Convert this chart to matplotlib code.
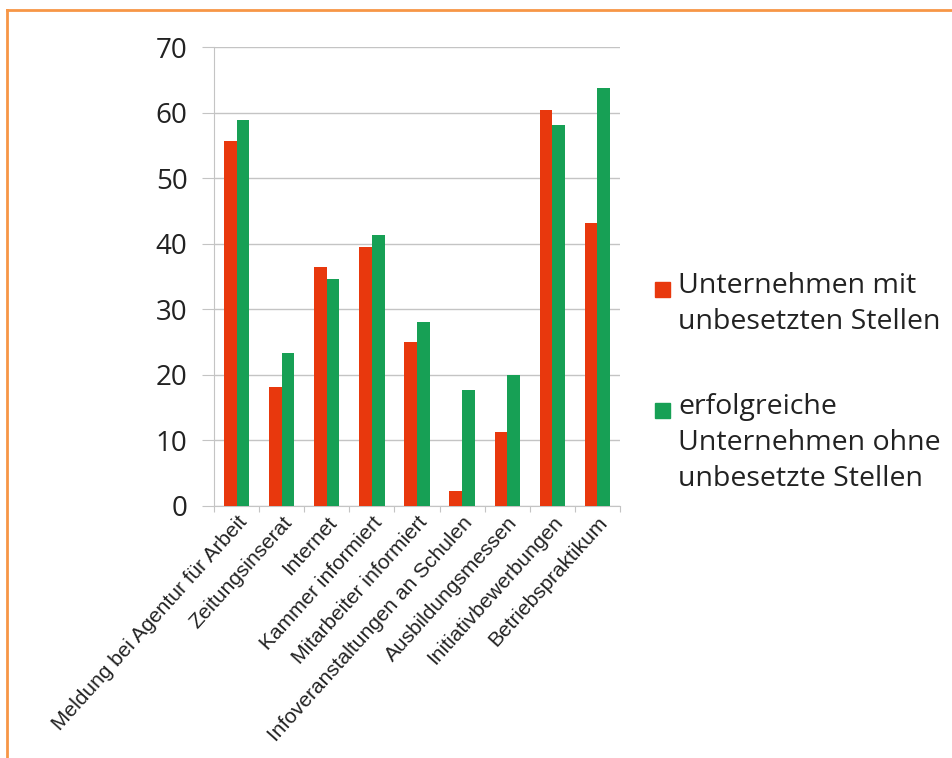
import matplotlib.pyplot as plt
import matplotlib.patches as mpatches
import numpy as np

# ---------------------------------------------------------------------------
# Data
# ---------------------------------------------------------------------------

categories = ['Meldung bei Agentur für Arbeit', 'Zeitungsinserat', 'Internet',
              'Kammer informiert', 'Mitarbeiter informiert',
              'Infoveranstaltungen an Schulen', 'Ausbildungsmessen',
              'Initiativbewerbungen', 'Betriebspraktikum']

mit_stellen  = [55.6, 18.1, 36.4, 39.5, 25.0, 2.3, 11.3, 60.4, 43.1]   # red
ohne_stellen = [58.8, 23.3, 34.6, 41.3, 28.0, 17.7, 20.0, 58.1, 63.7]  # green

series_names = ['Unternehmen mit\nunbesetzten Stellen',
                'erfolgreiche\nUnternehmen ohne\nunbesetzte Stellen']

RED   = '#E8380D'
GREEN = '#17A055'
ORANGE = '#F79646'

# ---------------------------------------------------------------------------
# Figure and axes
# ---------------------------------------------------------------------------

W, H = 953, 758
fig = plt.figure(figsize=(W / 100, H / 100), dpi=100)
ax = fig.add_axes([214 / W, 1 - 506 / H, (620 - 214) / W, (506 - 47) / H])

x = np.arange(len(categories))
bw = 0.28
ax.bar(x - bw / 2, mit_stellen, bw, color=RED, zorder=3)
ax.bar(x + bw / 2, ohne_stellen, bw, color=GREEN, zorder=3)

ax.set_xlim(-0.5, len(categories) - 0.5)
ax.set_ylim(0, 70)
ax.set_yticks(range(0, 71, 10))
ax.yaxis.grid(True, color='#C4C4C4', linewidth=1.0, zorder=0)

for s in ['top', 'right']:
    ax.spines[s].set_visible(False)
ax.spines['left'].set_color('#C4C4C4')
ax.spines['bottom'].set_color('#C4C4C4')

ax.tick_params(axis='y', length=9, color='#C4C4C4', labelsize=20, pad=10,
               labelcolor='#222222')
for lab in ax.get_yticklabels():
    lab.set_fontfamily('Open Sans')

# x ticks at category boundaries, labels at centers
ax.set_xticks(np.arange(-0.5, len(categories)), minor=False)
ax.set_xticklabels([])
ax.tick_params(axis='x', which='major', length=4, color='#C4C4C4')
ax.set_xticks(x, minor=True)
ax.set_xticklabels(categories, minor=True, rotation=48, ha='right',
                   rotation_mode='anchor', fontsize=15,
                   fontfamily='Liberation Sans', color='#222222')
ax.tick_params(axis='x', which='minor', length=0, pad=5)

# ---------------------------------------------------------------------------
# Legend drawn by hand so squares line up with the first text line
# ---------------------------------------------------------------------------

leg_y = [289, 410]
for name, col, yy in zip(series_names, [RED, GREEN], leg_y):
    fig.patches.append(mpatches.Rectangle((655 / W, 1 - (yy + 8) / H),
                                          15 / W, 15 / H, color=col,
                                          transform=fig.transFigure))
    fig.text(678 / W, 1 - (yy - 17) / H, name, fontsize=20.5,
             fontfamily='Open Sans', color='#222222', va='top', ha='left',
             linespacing=1.38)

# orange frame (top and left edge visible in reference)
fig.add_artist(plt.Line2D([7 / W, 1], [1 - 10 / H, 1 - 10 / H],
                          color=ORANGE, linewidth=2, transform=fig.transFigure))
fig.add_artist(plt.Line2D([7 / W, 7 / W], [0, 1 - 10 / H],
                          color=ORANGE, linewidth=2, transform=fig.transFigure))

fig.savefig('out.png', dpi=100)
